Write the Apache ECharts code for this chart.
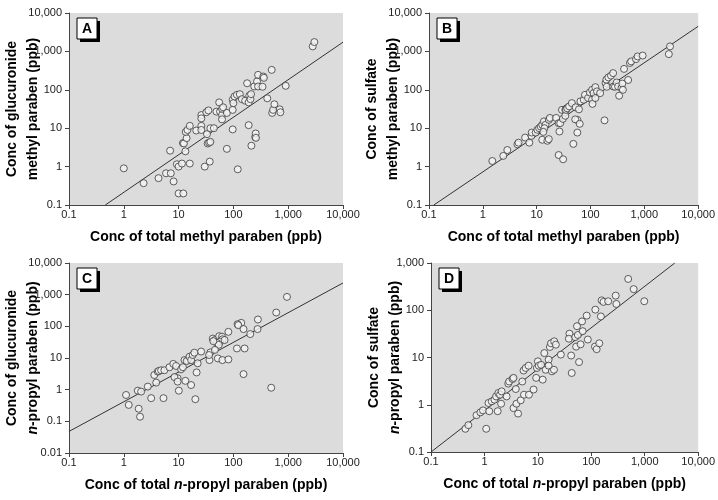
<!DOCTYPE html>
<html lang="en">
<head>
    <meta charset="UTF-8">
    <title>Paraben conjugates</title>
    <style>
        html, body { margin: 0; padding: 0; background: #fff; }
        .dis { width: 718px; height: 500px; }
    </style>
    <script src="https://cdn.jsdelivr.net/npm/echarts@6.0.0/dist/echarts.min.js"></script>
</head>
<body>
<div class="dis"></div>
<script>
// [total, conjugate] pairs (ppb)
var glucMethyl = [[1,0.9],[2.3,0.37],[4.3,0.5],[5.9,0.67],[7.2,0.67],[8.1,0.41],[7,2.6],[9.3,1.15],[10,1.0],[11.5,1.2],[10,0.2],[12.2,0.2],[12,4.1],[12.5,4],[13.3,2.5],[14,5.5],[13.5,8],[14.5,9],[16,11.5],[16,1.2],[21,8.7],[26,11.5],[26,22],[26,18],[26,9],[30,1],[32,26],[33,7],[35,29],[34,4],[36,4.2],[38,4.4],[38,10],[37,1.35],[44,10],[49,27],[55,47],[57,27],[62,22],[62,32],[62,17],[65,35],[76,25],[76,2.9],[97,9.3],[97,30],[97,55],[100,45],[105,67],[116,74],[131,77],[143,57],[164,52],[120,0.85],[178,148],[190,12],[190,47],[195,70],[205,57],[210,77],[213,3.5],[240,122],[250,5.9],[255,7.3],[258,5.6],[270,165],[282,122],[282,245],[340,120],[351,222],[360,205],[415,60],[500,330],[510,25],[530,30],[560,42],[700,31],[720,26],[900,127],[2800,1350],[3000,1750]];
var sulfMethyl = [[1.5,1.4],[2.4,1.9],[2.85,2.7],[4.4,3.8],[4.6,4.2],[6.1,5.7],[7.3,4.2],[8,6.3],[8.1,7.7],[9.6,7.7],[10.3,9.1],[11.1,10],[11.9,11],[12.7,12.2],[13.6,15],[14.6,12.2],[16.8,16.5],[17.6,18.5],[13.9,10],[13.3,8],[12.7,5],[15.8,4.7],[16.8,5.2],[23,18.5],[25.6,13.5],[29.5,30],[27.4,13.5],[26.5,8.2],[25.6,2.0],[31,1.55],[34,30],[36,33],[30.7,17.5],[34,21],[35,30],[37,33],[40,37],[45,45],[53,35],[61,31],[65,50],[75,55],[57,16.5],[52,17],[63,13],[57,7.7],[48,3.9],[79,74],[90,61],[97,85],[107,100],[107,55],[109,43],[114,82],[123,117],[123,61],[132,91],[151,82],[182,16],[190,150],[197,184],[200,120],[215,210],[240,234],[263,272],[265,122],[285,120],[306,155],[326,122],[340,70],[375,110],[390,145],[400,100],[420,350],[500,180],[540,500],[570,550],[700,630],[750,740],[930,780],[2850,850],[3000,1350]];
var glucPropyl = [[1.1,0.68],[1.23,0.33],[1.8,0.93],[1.87,0.25],[1.98,0.14],[2.07,0.87],[2.74,1.25],[3.16,0.54],[3.6,2.9],[3.9,1.67],[4.17,3.7],[4.35,3.9],[4.8,4.1],[5.5,4.1],[5.3,0.54],[6.8,5.1],[8,6.5],[9,5.6],[9.6,2.3],[8.4,2.5],[9.6,1.8],[10.1,0.93],[11.1,4.4],[12,5.1],[12.8,8.6],[14.7,8.6],[13.3,1.9],[14,8],[15.8,11],[16.9,8.6],[18.1,12.4],[19.4,14.7],[16.9,1.4],[20.2,0.5],[21.3,3.5],[22.3,6.8],[25.8,16],[36.6,8.6],[38,15],[36,12.4],[42,41],[46,37],[55,49],[62,47],[63,39],[57,33],[50,30],[54,26],[43,34],[69,37],[46,18],[52,9.7],[63,8.6],[81,9],[81,67],[139,129],[119,117],[123,109],[153,82],[116,20],[160,20],[153,3.1],[203,57],[276,82],[280,164],[490,1.15],[605,273],[950,850]];
var sulfPropyl = [[0.44,0.31],[0.5,0.37],[0.71,0.6],[0.84,0.69],[0.94,0.76],[1.08,0.31],[1.19,1.09],[1.23,0.73],[1.37,1.18],[1.54,1.28],[1.65,1.5],[1.77,0.73],[1.82,1.77],[1.96,1.63],[2.1,1.92],[2.05,1.05],[2.6,1.5],[2.79,2.8],[2.9,3.1],[3.35,3.5],[3.5,3.7],[3.86,2.15],[3.5,0.85],[3.97,1.05],[4.26,0.65],[4.77,1.24],[5.5,1.63],[5.1,3.1],[5.4,5.3],[5.9,6],[6.7,6.7],[6.8,1.63],[8.3,2.1],[9.3,3.7],[9.6,6],[10,8.3],[10.4,6.7],[11.5,7],[12.3,3.4],[13.2,12.4],[14,5.5],[15.9,9],[15.9,6.7],[16.8,16.7],[17.6,20],[18.3,5.1],[20,5.5],[20.2,22],[21.7,18.7],[26.9,11.5],[39,32],[38,25],[42,11],[43,4.7],[50,27],[52,17],[54,46],[56,30],[59,8],[63,19],[67,58],[69,36],[82,77],[86,24],[117,17],[119,103],[126,15],[141,20],[151,74],[156,162],[169,150],[207,155],[286,204],[294,136],[490,460],[620,280],[980,155]];

// regression lines, end points
var fitGlucMethyl = [[0.46,0.1],[10000,1740]];
var fitSulfMethyl = [[0.123,0.1],[10000,4500]];
var fitGlucPropyl = [[0.1,0.048],[10000,2340]];
var fitSulfPropyl = [[0.1,0.1],[3650,1000]];

// axis ranges
var xRange = [0.1, 10000];
var yRanges = [[0.1,10000],[0.1,10000],[0.01,10000],[0.1,1000]];
var panelLetters = ["A","B","C","D"];

var FONT = '"Liberation Sans",Arial,sans-serif';

function fmt(v) {
    var r = Number(v.toPrecision(6));
    if (r >= 1000) return String(r).replace(/\B(?=(\d{3})+(?!\d))/g, ",");
    return String(r);
}

var grids = [
    {left: 69, top: 13, width: 274, height: 192},
    {left: 429, top: 13, width: 274, height: 192},
    {left: 69, top: 263, width: 274, height: 190},
    {left: 431, top: 263, width: 271, height: 189}
];

var nameStyle = {
    fontFamily: FONT, fontWeight: "bold", fontSize: 14, color: "#000", lineHeight: 21,
    rich: {i: {fontFamily: FONT, fontWeight: "bold", fontStyle: "italic", fontSize: 14, color: "#000"}}
};
var xNames = [
    "Conc of total methyl paraben (ppb)",
    "Conc of total methyl paraben (ppb)",
    "Conc of total {i|n}-propyl paraben (ppb)",
    "Conc of total {i|n}-propyl paraben (ppb)"
];
var yNames = [
    "Conc of glucuronide\nmethyl paraben (ppb)",
    "Conc of sulfate\nmethyl paraben (ppb)",
    "Conc of glucuronide\n{i|n}-propyl paraben (ppb)",
    "Conc of sulfate\n{i|n}-propyl paraben (ppb)"
];

function axisBase(i) {
    return {
        type: "log", logBase: 10, gridIndex: i,
        nameLocation: "middle", nameTextStyle: nameStyle, nameMoveOverlap: false,
        axisLine: {show: true, lineStyle: {color: "#444", width: 1}},
        axisTick: {show: true, length: 4, lineStyle: {color: "#444"}},
        minorTick: {show: false},
        splitLine: {show: false},
        axisLabel: {fontFamily: FONT, fontSize: 11, color: "#222", formatter: fmt, showMinLabel: true, showMaxLabel: true}
    };
}

var xAxes = [], yAxes = [], series = [];
var scatterSets = [glucMethyl, sulfMethyl, glucPropyl, sulfPropyl];
var fitSets = [fitGlucMethyl, fitSulfMethyl, fitGlucPropyl, fitSulfPropyl];
var graphics = [];

for (var i = 0; i < 4; i++) {
    var xa = axisBase(i);
    xa.min = xRange[0]; xa.max = xRange[1]; xa.splitNumber = 5;
    xa.name = xNames[i]; xa.nameGap = 22;
    xa.axisLabel.margin = 4;
    xAxes.push(xa);

    var ya = axisBase(i);
    ya.min = yRanges[i][0]; ya.max = yRanges[i][1];
    ya.splitNumber = Math.round(Math.log10(ya.max / ya.min));
    ya.name = yNames[i]; ya.nameGap = 25;
    ya.axisLabel.margin = 7;
    yAxes.push(ya);

    series.push({
        type: "line", xAxisIndex: i, yAxisIndex: i, data: fitSets[i],
        showSymbol: false, lineStyle: {color: "#333", width: 1}, z: 2
    });
    series.push({
        type: "scatter", xAxisIndex: i, yAxisIndex: i, data: scatterSets[i],
        symbol: "circle", symbolSize: 7,
        itemStyle: {color: "#f4f4f4", borderColor: "#3a3a3a", borderWidth: 1}, z: 3
    });

    // panel letter box with drop shadow
    var bx = grids[i].left + 8, by = grids[i].top + 5;
    graphics.push({type: "rect", shape: {x: bx + 3, y: by + 3, width: 20, height: 21}, style: {fill: "#000"}, z: 10});
    graphics.push({type: "rect", shape: {x: bx, y: by, width: 20, height: 21}, style: {fill: "#fff", stroke: "#000", lineWidth: 1}, z: 11});
    graphics.push({type: "text", x: bx + 10, y: by + 11, z: 12, style: {
        text: panelLetters[i], fontFamily: FONT, fontWeight: "bold", fontSize: 14, fill: "#000",
        align: "center", verticalAlign: "middle"}});
}

var my_dis = echarts.init(document.getElementsByClassName("dis")[0]);
var option = {
    animation: false,
    backgroundColor: "#fff",
    grid: grids.map(function (g) {
        return {left: g.left, top: g.top, width: g.width, height: g.height, show: true, backgroundColor: "#dcdcdc", borderWidth: 0};
    }),
    xAxis: xAxes,
    yAxis: yAxes,
    series: series,
    graphic: graphics
};
my_dis.setOption(option);
</script>
</body>
</html>
